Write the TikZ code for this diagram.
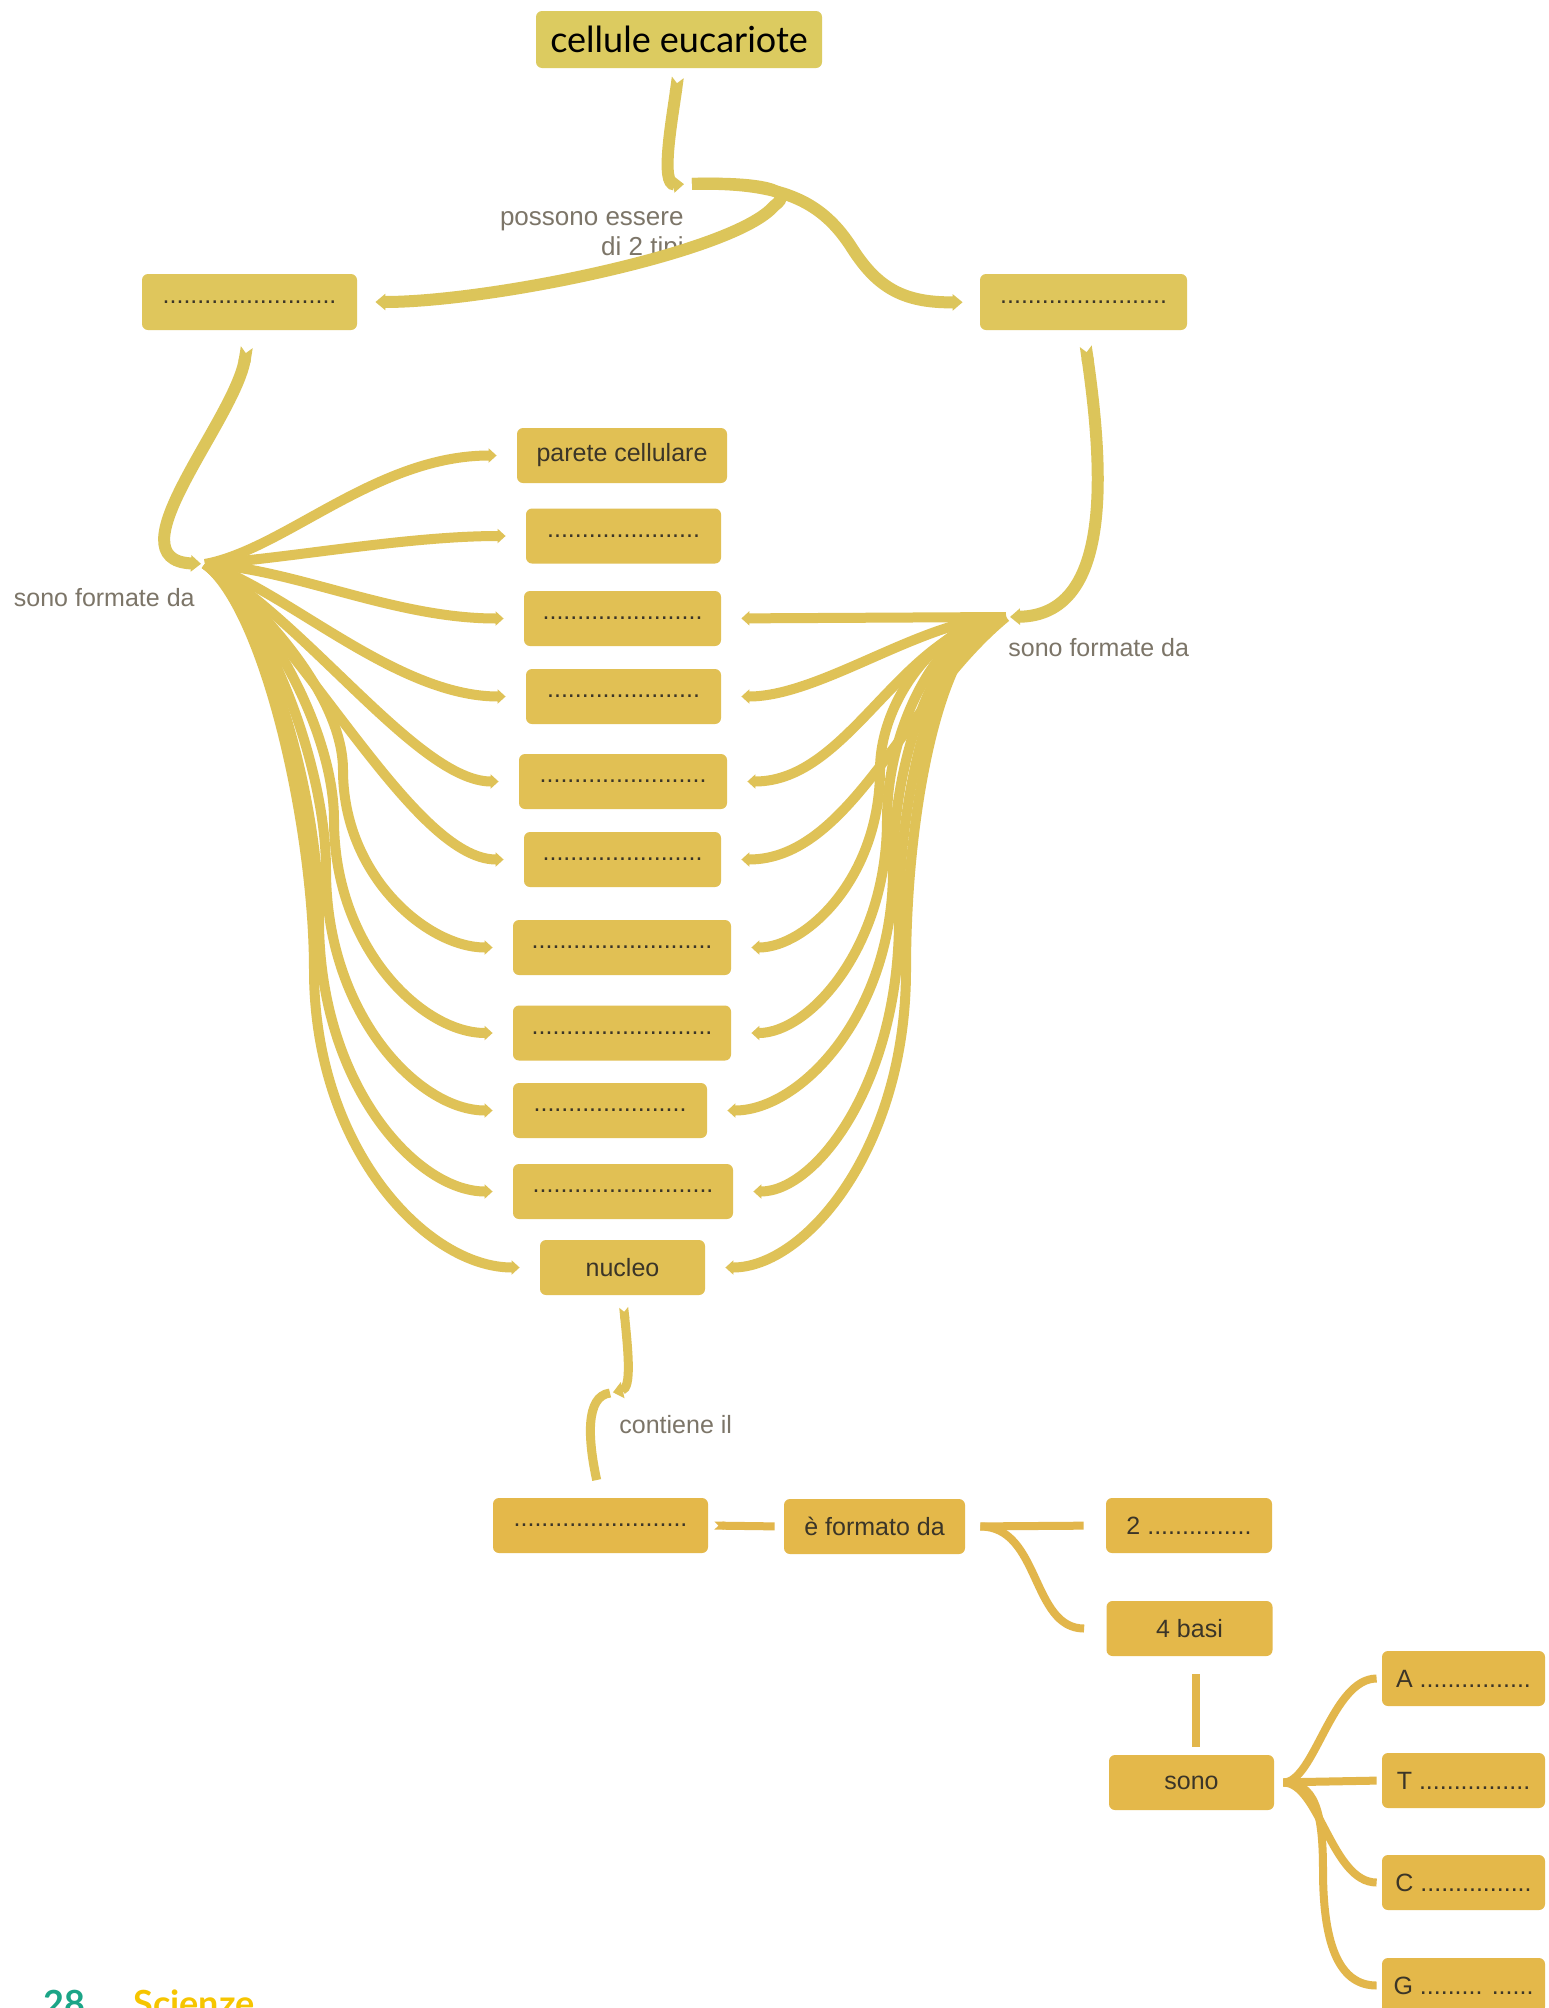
\documentclass[tikz,border=0pt]{standalone}
\usepackage{fontspec}
\setmainfont{Liberation Sans}
\newfontfamily\headfont{Lato}
\usetikzlibrary{arrows.meta}
\definecolor{cmtitle}{HTML}{DCCB60}
\definecolor{cmtop}{HTML}{DFC65C}
\definecolor{cmmid}{HTML}{E1C054}
\definecolor{cmlow}{HTML}{E4B84A}
\definecolor{cmline}{HTML}{DCC55A}
\definecolor{cmbundle}{HTML}{DFC257}
\definecolor{cmlinelow}{HTML}{E2B64B}
\definecolor{cmtext}{HTML}{3B3528}
\definecolor{cmlabel}{HTML}{7C7568}
\definecolor{pgteal}{HTML}{1BA587}
\definecolor{pgyellow}{HTML}{F6C500}
\tikzset{
	cnode/.style={fill=cmmid, rounded corners=3pt, minimum height=27.5pt,
		inner sep=2pt, align=center, text=cmtext, font=\fontsize{12.5}{15}\selectfont},
	lnode/.style={inner sep=0pt, text=cmlabel, font=\fontsize{12.5}{15}\selectfont},
	tarr/.style={draw=cmline, line width=6pt, -{Triangle[length=5pt,width=8pt]}},
	notch/.style={{Triangle Cap[reversed]}-{Triangle[length=5pt,width=8pt]}},
	barr/.style={draw=cmbundle, line width=5pt, shorten >=10pt, -{Triangle[length=4pt,width=7pt]}},
	darr/.style={draw=cmlinelow, line width=4pt}
}

\begin{document}
\begin{tikzpicture}[x=0.5pt, y=-0.5pt]
	\fill[white] (0,0) rectangle (1548,2008);
	\useasboundingbox (0,0) rectangle (1548,2008);

	% concepts, top
	\node[cnode, fill=cmtitle, text=black, minimum width=143pt, minimum height=28.5pt,
		font=\headfont\fontsize{18}{20}\selectfont] (cell) at (679,39.5) {cellule eucariote};
	\node[cnode, fill=cmtop, minimum width=107.5pt, minimum height=28pt] (type1) at (249.5,302) {.........................};
	\node[cnode, fill=cmtop, minimum width=103.5pt, minimum height=28pt] (type2) at (1083.5,302) {........................};

	% concepts, middle column
	\node[cnode, minimum width=105pt] (parete) at (622,455.5) {parete cellulare};
	\node[cnode, minimum width=97.5pt] (org2) at (623.5,536) {......................};
	\node[cnode, minimum width=98.5pt] (org3) at (622.5,618.5) {.......................};
	\node[cnode, minimum width=97.5pt] (org4) at (623.5,696.5) {......................};
	\node[cnode, minimum width=104pt] (org5) at (623,781.5) {........................};
	\node[cnode, minimum width=98.5pt] (org6) at (622.5,859.5) {.......................};
	\node[cnode, minimum width=109pt] (org7) at (622,947.5) {..........................};
	\node[cnode, minimum width=109pt] (org8) at (622,1033) {..........................};
	\node[cnode, minimum width=97pt] (org9) at (610,1110.5) {......................};
	\node[cnode, minimum width=110pt] (org10) at (623,1191.5) {..........................};
	\node[cnode, minimum width=82.5pt] (nucleo) at (622.5,1267.5) {nucleo};

	% concepts, bottom
	\node[cnode, fill=cmlow, minimum width=107.5pt] (dna) at (600.5,1525.5) {.........................};
	\node[cnode, fill=cmlow, minimum width=90.5pt] (form) at (874.5,1526.5) {è formato da};
	\node[cnode, fill=cmlow, minimum width=83pt] (due) at (1189,1525.5) {2 ...............};
	\node[cnode, fill=cmlow, minimum width=83pt] (basi) at (1189.5,1628.5) {4 basi};
	\node[cnode, fill=cmlow, minimum width=82.5pt] (sono) at (1191.5,1782.5) {sono};
	\node[cnode, fill=cmlow, minimum width=81.5pt] (baseA) at (1463.5,1678.5) {A ................};
	\node[cnode, fill=cmlow, minimum width=81.5pt] (baseT) at (1463.5,1780.5) {T ................};
	\node[cnode, fill=cmlow, minimum width=81.5pt] (baseC) at (1463.5,1882.5) {C ................};
	\node[cnode, fill=cmlow, minimum width=81.5pt] (baseG) at (1463.5,1985.5) {G ......... ......};

	% linking words
	\node[lnode, align=right, anchor=east, font=\fontsize{13}{15}\selectfont] (lab2tipi) at (684,236) {possono essere\\di 2 tipi};
	\node[lnode, anchor=east] (labL) at (195,598) {sono formate da};
	\node[lnode, anchor=west] (labR) at (1008,648) {sono formate da};
	\node[lnode, anchor=west] (labN) at (619,1425) {contiene il};

	\coordinate (hubT) at (688,184);
	\coordinate (hubL) at (205,564);
	\coordinate (hubR) at (1006,617);
	\coordinate (hubN) at (610,1393);

	% top links
	\draw[tarr, notch, shorten <=4.5pt, shorten >=2pt] (cell.south) .. controls (672,120) and (660,185) .. (hubT);
	\draw[tarr, shorten <=2pt, shorten >=9pt] (hubT) .. controls (760,182) and (797,190) .. (774,206)
		.. controls (735,252) and (490,302) .. (type1.east);
	\draw[tarr, shorten <=2pt, shorten >=8.5pt] (hubT) .. controls (780,182) and (820,200) .. (850,245)
		.. controls (875,285) and (900,303) .. (type2.west);
	\draw[tarr, notch, shorten <=8.5pt, shorten >=2pt] (type1.south) .. controls (235,420) and (110,560) .. (hubL);
	\draw[tarr, notch, shorten <=8pt, shorten >=2pt] (type2.south) .. controls (1105,480) and (1110,615) .. (hubR);

	% left bundle
	\foreach \n/\a/\b/\c in {parete/80/-15/140, org2/80/-5/120, org3/90/5/130, org4/80/25/130,
		org5/100/55/100, org6/100/75/110}
		\draw[barr] (hubL) .. controls +(\a,\b) and +(-\c,0) .. (\n.west);
	\foreach \n/\xv/\qy/\e/\c/\d in {org7/343/770/72/106/85, org8/334/820/90/128/90,
		org9/326/870/107/144/94, org10/319/920/125/163/97, nucleo/314/970/142/178/113}
		\draw[barr] (hubL) .. controls +(60,45) and +(0,-\e) .. (\xv,\qy) .. controls +(0,\c) and +(-\d,0) .. (\n.west);

	% right bundle
	\draw[barr] (hubR) -- (org3.east);
	\foreach \n/\a/\b/\c in {org4/80/0/100, org5/106/13/123, org6/101/83/129}
		\draw[barr] (hubR) .. controls +(-\a,\b) and +(\c,0) .. (\n.east);
	\foreach \n/\xv/\qy/\e/\c/\d in {org7/880/770/75/107/75, org8/887/820/100/127/78,
		org9/893/870/125/144/93, org10/899/920/150/162/83, nucleo/906/970/175/178/100}
		\draw[barr] (hubR) .. controls +(-60,0) and +(0,-\e) .. (\xv,\qy) .. controls +(0,\c) and +(\d,0) .. (\n.east);

	% nucleo and below
	\draw[barr, notch, line width=4.5pt, shorten <=6pt, shorten >=1.5pt] (nucleo.south) .. controls (628,1350) and (632,1388) .. (hubN);
	\draw[barr, line width=4.5pt, -, shorten >=9pt] (hubN) .. controls (585,1396) and (588,1440) .. (dna.north);
	\draw[darr, {Triangle Cap[reversed]}-, shorten <=3pt, shorten >=4.5pt] (dna.east) -- (form.west);
	\draw[darr, shorten <=7.5pt, shorten >=11pt] (form.east) -- (due.west);
	\draw[darr, shorten <=7.5pt, shorten >=11pt] (form.east) .. controls +(75,0) and +(-75,0) .. (basi.west);
	\draw[darr, shorten <=9pt, shorten >=4pt] ([xshift=3pt]basi.south) -- ([xshift=2pt]sono.north);
	\draw[darr, shorten <=4.5pt, shorten >=2.5pt] (sono.east) .. controls +(40,0) and +(-50,0) .. (baseA.west);
	\draw[darr, shorten <=4.5pt, shorten >=2.5pt] (sono.east) -- (baseT.west);
	\draw[darr, shorten <=4.5pt, shorten >=2.5pt] (sono.east) .. controls +(45,0) and +(-50,0) .. (baseC.west);
	\draw[darr, shorten <=4.5pt, shorten >=2.5pt] (sono.east) .. controls +(40,0) and +(0,-60) .. (1323,1870)
		.. controls +(0,80) and +(-40,0) .. (baseG.west);

	% page footer
	\node[anchor=base west, inner sep=0pt, text=pgteal, font=\headfont\bfseries\fontsize{18}{20}\selectfont] (pgnum) at (43,2016) {28};
	\node[anchor=base west, inner sep=0pt, text=pgyellow, font=\headfont\bfseries\fontsize{18}{20}\selectfont] (pgsub) at (133,2016) {Scienze};
\end{tikzpicture}
\end{document}
